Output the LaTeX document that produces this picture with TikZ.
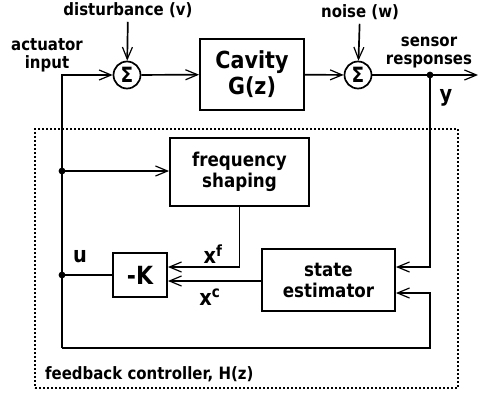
\documentclass[tikz,border=0pt]{standalone}
\usepackage{fontspec}
\setmainfont{DejaVu Sans}[FakeStretch=0.88]
\usetikzlibrary{arrows.meta}

\begin{document}
\begin{tikzpicture}[x=1pt,y=-1pt,>={Straight Barb[length=12pt,width=10pt,line width=1.2pt]},
  line width=1.7pt,font=\bfseries\fontsize{17}{18}\selectfont,
  blk/.style={draw,line width=1.9pt,inner sep=0pt,align=center},
  sumnode/.style={draw,circle,inner sep=0pt,minimum size=27pt,font=\bfseries\fontsize{21}{21}\selectfont},
  biglab/.style={font=\bfseries\fontsize{22}{22}\selectfont},
  dashbox/.style={draw,dash pattern=on 2pt off 2pt,line width=1.4pt,inner sep=0pt}]
\useasboundingbox (0,0) rectangle (478,396);

% plant path
\node[sumnode] (s1) at (127,75) {Σ};
\node[sumnode] (s2) at (358,75) {Σ};
\node[blk,minimum width=104pt,minimum height=71pt,font=\bfseries\fontsize{23.5}{26}\selectfont] (cav) at (252,74.5) {Cavity\\G(z)};
\node (dist) at (128,10) {disturbance (v)};
\node (noise) at (360,12) {noise (w)};
\node[align=center] (act) at (47,55) {actuator\\input};
\node[align=center] (sens) at (429,53) {sensor\\responses};
\coordinate (out) at (478,75);
\coordinate (ydot) at (430,75);
\node[biglab] (ylab) at (446,98) {y};

\draw[->] (dist) -- (s1);
\draw[->] (noise) -- (s2);
\draw[->] (s1) -- (cav);
\draw[->] (cav) -- (s2);
\draw[->] (s2) -- (out);
\fill (ydot) circle (3.4pt);

% controller
\node[dashbox,minimum width=423pt,minimum height=259pt] (ctrl) at (246.5,258.5) {};
\node[anchor=west] (ctrllab) at (41,374) {feedback controller, H(z)};
\node[blk,minimum width=139pt,minimum height=68pt,font=\bfseries\fontsize{19}{21}\selectfont] (fs) at (239.5,172) {frequency\\shaping};
\node[blk,minimum width=54pt,minimum height=44pt,font=\bfseries\fontsize{25}{25}\selectfont] (K) at (140,275) {-K};
\node[blk,minimum width=133pt,minimum height=62pt,font=\bfseries\fontsize{19}{21}\selectfont] (st) at (328.5,280) {state\\estimator};
\coordinate (fdot) at (62,171);
\coordinate (udot) at (62,275);
\coordinate (bl) at (62,348);
\coordinate (br) at (430,348);
\node[biglab] (xf) at (213,254) {x\textsuperscript{f}};
\node[biglab] (xc) at (210,297) {x\textsuperscript{c}};
\node[biglab] (ulab) at (80,257) {u};

\draw[->] (bl) |- (s1);
\draw[->] (bl) -- (br) |- ([yshift=-13pt]st.east);
\draw[->] (ydot) |- ([yshift=13pt]st.east);
\draw[->] (fdot) -- (fdot -| fs.west);
\draw[->] (fs.south) |- ([yshift=8pt]K.east);
\draw[->] ([yshift=-6pt]K.east -| st.west) -- ([yshift=-6pt]K.east);
\draw (K.west) -- (udot);
\fill (fdot) circle (3.4pt);
\fill (udot) circle (3.4pt);
\end{tikzpicture}
\end{document}
